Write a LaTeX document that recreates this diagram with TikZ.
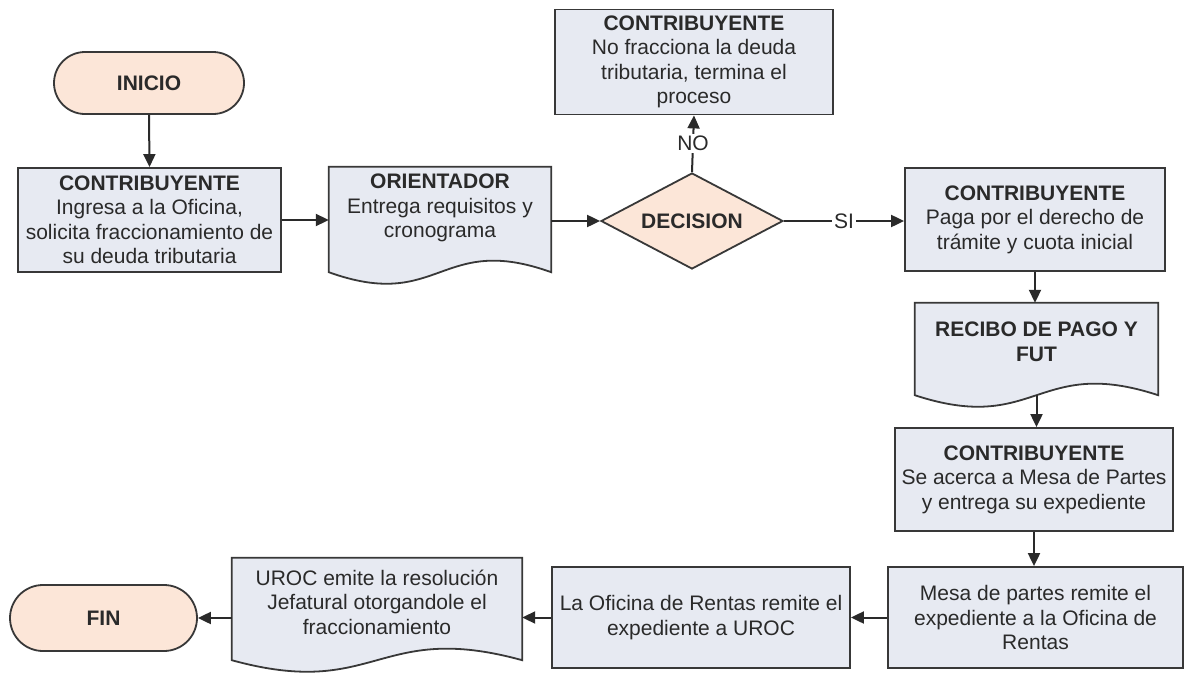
\documentclass[tikz,border=0pt]{standalone}
\usepackage{fontspec}
\setmainfont{Liberation Sans}
\usetikzlibrary{arrows.meta,shapes.geometric,calc}
\definecolor{boxfill}{HTML}{E7EAF2}
\definecolor{termfill}{HTML}{FCE6D8}
\definecolor{edge}{HTML}{383838}
\definecolor{ink}{HTML}{2A2A2A}
\tikzset{
  base/.style={font=\fontsize{21}{24.5}\selectfont, text=ink, align=center, inner sep=0pt},
  boldbase/.style={base, font=\fontsize{21}{24.5}\selectfont\bfseries},
  proc/.style={base, draw=edge, fill=boxfill, line width=1.8pt, rectangle},
  term/.style={boldbase, draw=edge, fill=termfill, line width=1.8pt, rounded corners=31pt},
  decis/.style={base, draw=edge, fill=termfill, line width=1.8pt, diamond, minimum width=182pt, minimum height=96pt},
  docbox/.style={base, rectangle},
  docline/.style={draw=edge, fill=boxfill, line width=1.8pt, line join=miter},
  arr/.style={draw=ink, line width=2pt, -{Triangle[length=13pt,width=12pt]}},
  lbl/.style={base, fill=white, inner sep=2pt}
}
\newcommand\docoutline[1]{%
  \path[docline] let \p1=(#1.south west), \p2=(#1.north east) in
    (\x1,\y1) -- (\x1,\y2) -- (\x2,\y2) -- (\x2,\y1)
    .. controls ({0.5*\x1+0.5*\x2},{\y1+40pt}) and ({0.5*\x1+0.5*\x2},{\y1-40pt}) .. (\x1,\y1) -- cycle;}
\begin{document}
\begin{tikzpicture}[x=1pt,y=-1pt]
\fill[white] (0,0) rectangle (1187,675);
\useasboundingbox (0,0) rectangle (1187,675);

% terminals
\node[term, minimum width=190pt, minimum height=62pt] (INI) at (149,83) {INICIO};
\node[term, minimum width=187pt, minimum height=66pt, rounded corners=33pt] (FIN) at (103.5,618) {FIN};

% process boxes
\node[proc, minimum width=263pt, minimum height=104pt] (B1) at (149.5,220)
  {{\bfseries CONTRIBUYENTE}\\Ingresa a la Oficina,\\solicita fraccionamiento de\\su deuda tributaria};
\node[proc, minimum width=278pt, minimum height=105pt] (TOP) at (694,62)
  {{\bfseries CONTRIBUYENTE}\\No fracciona la deuda\\tributaria, termina el\\proceso};
\node[proc, minimum width=260pt, minimum height=103pt] (PAGA) at (1035,219.5)
  {{\bfseries CONTRIBUYENTE}\\Paga por el derecho de\\trámite y cuota inicial};
\node[proc, minimum width=278pt, minimum height=103pt] (SE) at (1034,479.5)
  {{\bfseries CONTRIBUYENTE}\\Se acerca a Mesa de Partes\\y entrega su expediente};
\node[proc, minimum width=295pt, minimum height=101pt] (MESA) at (1035.5,617.5)
  {Mesa de partes remite el\\expediente a la Oficina de\\Rentas};
\node[proc, minimum width=298pt, minimum height=101pt] (OFI) at (701,617.5)
  {La Oficina de Rentas remite el\\expediente a UROC};

% decision
\node[decis] (DEC) at (692,221) {};
\node[boldbase] (DECt) at (DEC.center) {DECISION};

% documents
\node[docbox, minimum width=222pt, minimum height=105pt] (ORI) at (440,219.5) {};
\docoutline{ORI}
\node[base] (ORIt) at ([yshift=11.5pt]ORI.center) {{\bfseries ORIENTADOR}\\Entrega requisitos y\\cronograma};

\node[docbox, minimum width=243pt, minimum height=92pt] (REC) at (1036.5,349) {};
\docoutline{REC}
\node[boldbase] (RECt) at ([yshift=7pt]REC.center) {RECIBO DE PAGO Y\\FUT};

\node[docbox, minimum width=290pt, minimum height=102pt] (UROC) at (377,609) {};
\docoutline{UROC}
\node[base] (UROCt) at ([yshift=7pt]UROC.center) {UROC emite la resolución\\Jefatural otorgandole el\\fraccionamiento};

% connectors
\draw[arr] (INI.south) -- (B1.north);
\draw[arr] (B1.east) -- (B1.east -| ORI.west);
\draw[arr] (ORI.east |- DEC.west) -- (DEC.west);
\draw[arr] (DEC.north) -- node[lbl] (NOl) {NO} (TOP.south);
\draw[arr] (DEC.east) -- node[lbl] (SIl) {SI} (DEC.east -| PAGA.west);
\draw[arr] (PAGA.south) -- (PAGA.south |- REC.north);
\draw[arr] (REC.south) -- (REC.south |- SE.north);
\draw[arr] (SE.south) -- (SE.south |- MESA.north);
\draw[arr] (MESA.west) -- (MESA.west -| OFI.east);
\draw[arr] (OFI.west) -- (OFI.west -| UROC.east);
\draw[arr] (UROC.west |- FIN.east) -- (FIN.east);
\end{tikzpicture}
\end{document}
